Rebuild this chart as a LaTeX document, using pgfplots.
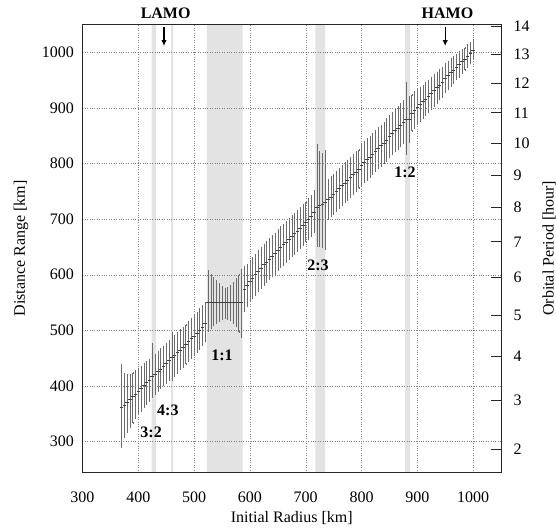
\documentclass[border=0pt]{standalone}
\usepackage{pgfplots}
\pgfplotsset{compat=1.18}
\usepackage{pgfplotstable}
\usepackage{fontspec}
\setmainfont{Liberation Serif}
\usetikzlibrary{arrows.meta}

\pgfplotstableread{
x c ep em
370 362 76 72
375 366 55 58
380 371 48 53
385 376 44 50
390 381 42 47
395 386 41 44
400 391 40 42
405 396 39 40
410 401 38 39
415 406 37 38
420 411 36 37
425 417 58 36
430 421 35 35
435 426 35 35
440 431 35 35
445 436 35 35
450 441 35 35
455 446 35 35
460 452 44 42
465 455 35 37
470 460 35 36
475 465 35 35
480 470 35 35
485 475 35 35
490 480 35 35
495 485 36 35
500 490 36 34
505 495 37 33
510 500 38 33
515 506 38 32
520 512 38 31
525 550 56 51
530 550 50 46
535 550 44 41
540 550 38 37
545 550 33 33
550 550 28 30
555 550 25 28
560 550 26 29
565 550 30 32
570 550 36 37
575 550 42 43
580 550 50 52
585 550 59 61
590 574 39 39
595 581 37 37
600 588 36 36
605 594 36 36
610 600 36 36
615 606 36 36
620 612 36 36
625 618 36 36
630 623 36 36
635 628 36 36
640 633 36 36
645 638 36 36
650 644 36 36
655 649 36 36
660 654 36 36
665 659 36 36
670 664 36 36
675 669 36 36
680 674 36 36
685 679 36 36
690 684 36 36
695 689 36 36
700 695 36 36
705 700 36 36
710 705 36 36
715 712 38 36
720 721 112 69
725 724 96 73
730 727 90 78
735 731 91 84
740 735 35 35
745 740 35 35
750 745 35 35
755 750 35 35
760 755 35 35
765 760 35 35
770 765 35 35
775 770 35 35
780 775 35 35
785 780 35 35
790 785 35 35
795 790 35 35
800 797 36 36
805 802 36 36
810 807 36 36
815 812 36 36
820 817 36 36
825 822 36 36
830 827 36 36
835 832 36 36
840 837 36 36
845 842 37 37
850 849 37 37
855 854 37 37
860 859 37 37
865 864 38 38
870 869 38 38
875 874 38 38
880 880 64 63
885 880 39 42
890 891 32 32
895 896 32 32
900 901 31 31
905 906 30 30
910 911 29 29
915 916 29 29
920 921 28 28
925 926 28 28
930 931 27 27
935 936 27 27
940 941 26 26
945 946 26 26
950 953 25 25
955 958 25 25
960 963 24 24
965 968 23 23
970 973 22 22
975 978 22 22
980 983 21 21
985 988 20 20
990 993 19 19
995 998 18 18
1000 1004 17 17
}\data

\newcommand{\bigfont}{\fontsize{16}{19}\selectfont}

\begin{document}
\begin{tikzpicture}
\begin{axis}[
  at={(0,0)}, anchor=south west,
  scale only axis, width=418.5pt, height=448pt,
  xmin=300, xmax=1050, ymin=245, ymax=1050,
  xtick={300,400,...,1000}, ytick={300,400,...,1000},
  xtick pos=bottom, ytick pos=left,
  major tick length=0pt,
  grid=major,
  grid style={dotted, black!50, line width=0.4pt},
  axis line style={line width=0.8pt, black!85},
  axis on top,
  clip=false,
  /pgf/number format/assume math mode=true,
  /pgf/number format/1000 sep={},
  tick label style={font=\bigfont},
  xticklabel style={anchor=center, yshift=-24.7pt},
  yticklabel style={anchor=east, xshift=-5pt},
  xlabel={Initial Radius [km]},
  ylabel={Distance Range [km]},
  every axis x label/.style={at={(axis description cs:0.5,-0.102)}, anchor=center, font=\bigfont},
  every axis y label/.style={at={(axis description cs:-0.147,0.5)}, rotate=90, anchor=center, font=\bigfont},
]
% resonance bands
\addplot[fill=black!11, draw=none] coordinates {(424,245) (432,245) (432,1050) (424,1050) (424,245)};
\addplot[fill=black!11, draw=none] coordinates {(459,245) (462.5,245) (462.5,1050) (459,1050) (459,245)};
\addplot[fill=black!11, draw=none] coordinates {(523,245) (587,245) (587,1050) (523,1050) (523,245)};
\addplot[fill=black!11, draw=none] coordinates {(717.5,245) (735,245) (735,1050) (717.5,1050) (717.5,245)};
\addplot[fill=black!11, draw=none] coordinates {(878,245) (887,245) (887,1050) (878,1050) (878,245)};
% data with ranges
\addplot[only marks, mark=-, mark size=1.8pt, mark options={line width=0.5pt, black!75},
  error bars/.cd, y dir=both, y explicit,
  error bar style={black!58, line width=0.5pt},
  error mark=-, error mark options={mark size=1pt, line width=0.4pt, black!58}]
  table[x=x, y=c, y error plus=ep, y error minus=em]{\data};
% arrows
\addplot[line width=1.4pt, -{Latex[length=6pt,width=5.5pt]}] coordinates {(446,1046) (446,1011)};
\addplot[line width=1.4pt, -{Latex[length=6pt,width=5.5pt]}] coordinates {(950,1046) (950,1011)};
\node[font=\bigfont\bfseries] at (axis cs:449,1070) {LAMO};
\node[font=\bigfont\bfseries] at (axis cs:954,1070) {HAMO};
\node[font=\bigfont\bfseries] at (axis cs:423,317) {3:2};
\node[font=\bigfont\bfseries] at (axis cs:453,357) {4:3};
\node[font=\bigfont\bfseries] at (axis cs:550,456) {1:1};
\node[font=\bigfont\bfseries] at (axis cs:722,617) {2:3};
\node[font=\bigfont\bfseries] at (axis cs:878,784) {1:2};
\end{axis}
\begin{axis}[
  at={(0,0)}, anchor=south west,
  scale only axis, width=418.5pt, height=448pt,
  xmin=300, xmax=1050, ymin=245, ymax=1050,
  hide x axis,
  axis y line*=right,
  axis line style={line width=0.8pt, black!85},
  tick align=inside,
  major tick length=10pt,
  tick style={line width=0.8pt, black!85},
  ytick={285.9,374.7,453.9,526.7,594.7,659.1,720.5,779.3,836.0,890.9,944.1,995.9,1046.3},
  yticklabels={2,3,4,5,6,7,8,9,10,11,12,13,14},
  tick label style={font=\bigfont},
  yticklabel style={anchor=west, xshift=9pt},
  ylabel={Orbital Period [hour]},
  every axis y label/.style={at={(axis description cs:1.115,0.5)}, rotate=90, anchor=center, font=\bigfont},
]
\end{axis}
\pgfresetboundingbox
\path[use as bounding box] (-82.5pt,-54.7pt) rectangle (473.5pt,472.3pt);
\end{tikzpicture}
\end{document}
